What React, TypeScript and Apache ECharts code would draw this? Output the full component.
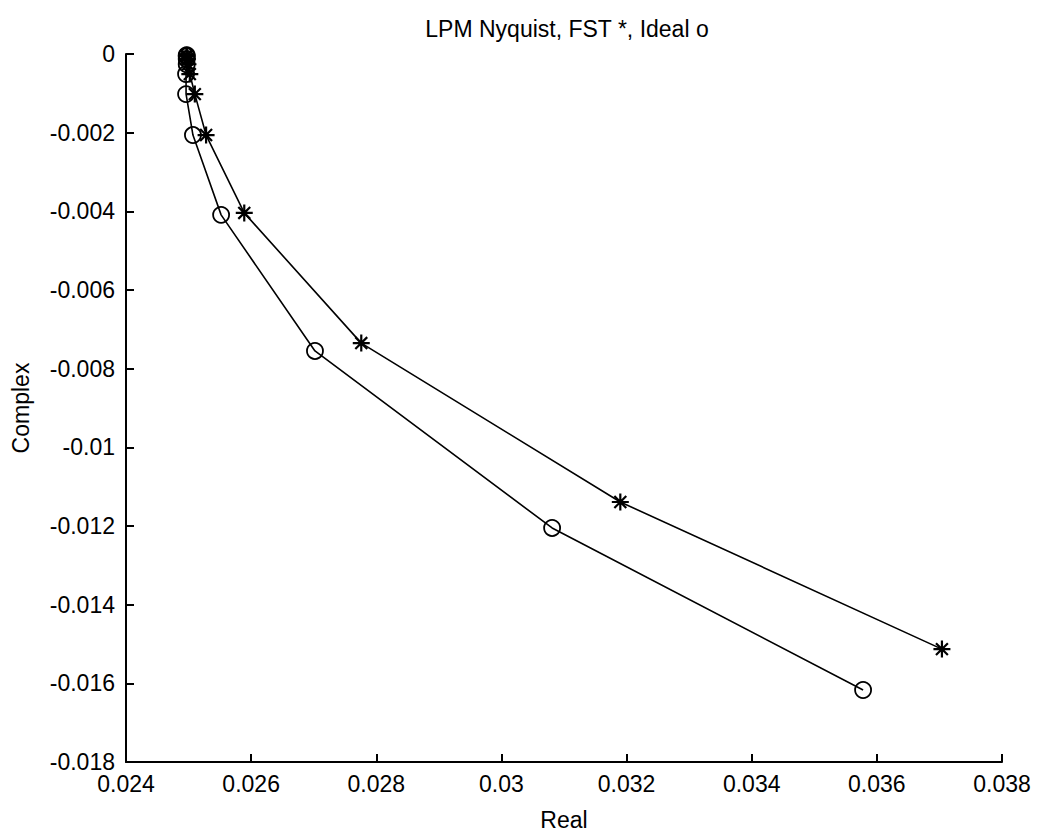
import React, { useEffect, useRef } from "react";
import * as echarts from "echarts";

const titleText = "LPM Nyquist, FST *, Ideal o";
const xName = "Real";
const yName = "Complex";

// FST (asterisk markers): [real, imaginary]
const fstReal = [0.02497, 0.02497, 0.02498, 0.02499, 0.02502, 0.0251, 0.02528, 0.02589, 0.02776, 0.0319, 0.03704];
const fstImag = [-0.00003, -0.00006, -0.00013, -0.00026, -0.00051, -0.00102, -0.00206, -0.00404, -0.00735, -0.01139, -0.01513];

// Ideal (circle markers): [real, imaginary]
const idealReal = [0.02497, 0.02497, 0.02497, 0.02497, 0.02496, 0.02496, 0.02507, 0.02552, 0.02702, 0.03081, 0.03578];
const idealImag = [-0.00003, -0.00006, -0.00013, -0.00026, -0.00051, -0.00102, -0.00206, -0.00409, -0.00755, -0.01205, -0.01617];

const xMin = 0.024;
const xMax = 0.038;
const yMin = -0.018;
const yMax = 0;
const step = 0.002;

const FONT = "'Liberation Sans', Arial, sans-serif";

const asterisk =
  "path://M0,-10L0,10M-10,0L10,0M-7,-7L7,7M-7,7L7,-7";

function fmt(v: number): string {
  const r = Math.round(v * 1e6) / 1e6;
  return String(r);
}

export default function App() {
  const ref = useRef<HTMLDivElement>(null);
  useEffect(() => {
    if (!ref.current) return;
    const chart = echarts.init(ref.current, undefined, { renderer: "svg" });
    const fst = fstReal.map((x, i) => [x, fstImag[i]]);
    const ideal = idealReal.map((x, i) => [x, idealImag[i]]);
    chart.setOption({
      animation: false,
      backgroundColor: "#fff",
      title: {
        text: titleText,
        left: 562,
        textAlign: "center",
        top: 12,
        textStyle: { fontFamily: FONT, fontSize: 23, fontWeight: "normal", color: "#000" },
      },
      grid: { left: 126, right: 35, top: 54, bottom: 74, outerBoundsMode: "none", containLabel: false },
      xAxis: {
        type: "value",
        min: xMin,
        max: xMax,
        interval: step,
        name: xName,
        nameLocation: "middle",
        nameGap: 46,
        nameTextStyle: { fontFamily: FONT, fontSize: 23, color: "#000" },
        axisLine: { show: true, onZero: false, lineStyle: { color: "#000", width: 2 } },
        axisTick: { show: true, inside: true, length: 8, lineStyle: { color: "#000", width: 2 } },
        axisLabel: { fontFamily: FONT, fontSize: 23, color: "#000", margin: 10, formatter: fmt },
        splitLine: { show: false },
      },
      yAxis: {
        type: "value",
        min: yMin,
        max: yMax,
        interval: step,
        name: yName,
        nameLocation: "middle",
        nameGap: 94,
        nameTextStyle: { fontFamily: FONT, fontSize: 23, color: "#000" },
        axisLine: { show: true, onZero: false, lineStyle: { color: "#000", width: 2 } },
        axisTick: { show: true, inside: true, length: 8, lineStyle: { color: "#000", width: 2 } },
        axisLabel: { fontFamily: FONT, fontSize: 23, color: "#000", margin: 11, formatter: fmt },
        splitLine: { show: false },
      },
      series: [
        {
          name: "FST",
          type: "line",
          data: fst,
          symbol: asterisk,
          symbolSize: 17,
          showAllSymbol: true,
          lineStyle: { color: "#000", width: 1.6 },
          itemStyle: { color: "none", borderColor: "#000", borderWidth: 2.2 },
          z: 3,
        },
        {
          name: "Ideal",
          type: "line",
          data: ideal,
          symbol: "circle",
          symbolSize: 16,
          showAllSymbol: true,
          lineStyle: { color: "#000", width: 1.6 },
          itemStyle: { color: "none", borderColor: "#000", borderWidth: 1.8 },
          z: 3,
        },
      ],
    });
    return () => chart.dispose();
  }, []);
  return (
    <div
      ref={ref}
      style={{ position: "fixed", left: 0, top: 0, width: 1037, height: 836, background: "#fff" }}
    />
  );
}
